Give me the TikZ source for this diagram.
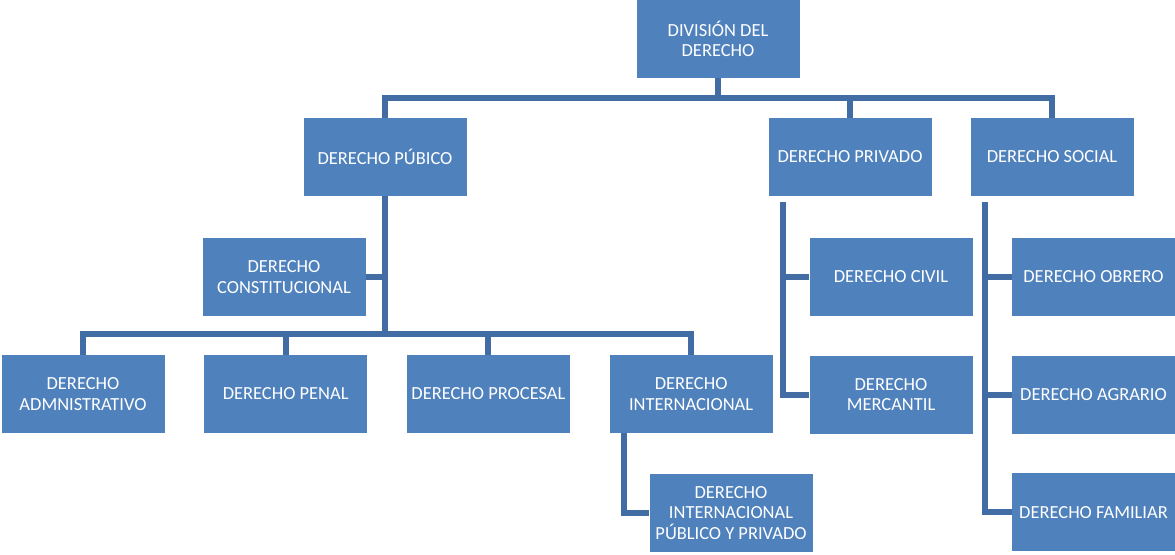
\documentclass[tikz,border=0pt]{standalone}
\usepackage{fontspec}
\setmainfont{Carlito}
\usetikzlibrary{positioning}
\definecolor{cajaazul}{RGB}{79,129,189}
\definecolor{lineaazul}{RGB}{66,108,164}

\begin{document}
\begin{tikzpicture}[
    node distance=0.78cm and 0.78cm, % Abstand zwischen den Knoten
    every node/.style={font=\fontsize{10.5}{11.5}\selectfont}, % Schriftart der Knoten
    caja/.style={fill=cajaazul, text=white, align=center, inner sep=1pt, minimum width=3.26cm, minimum height=1.56cm}, % Stil der Kaesten
    enlace/.style={draw=lineaazul, line width=3.4pt} % Stil der Verbindungen
]
\useasboundingbox (0,0) rectangle (23.5,-11.08);

% Wurzel
\node[caja] (division) at (14.36,-0.78) {DIVISIÓN DEL\\DERECHO};

% Erste Ebene
\node[caja] (publico) at (7.70,-3.14) {DERECHO PÚBICO};
\node[caja] (privado) at (17.00,-3.14) {DERECHO PRIVADO};
\node[caja] (social) at (21.04,-3.14) {DERECHO SOCIAL};

% Derecho Publico
\node[caja] (constitucional) at (5.68,-5.54) {DERECHO\\CONSTITUCIONAL};
\node[caja] (administrativo) at (1.66,-7.88) {DERECHO\\ADMNISTRATIVO};
\node[caja] (penal) [right=of administrativo] {DERECHO PENAL};
\node[caja] (procesal) [right=of penal] {DERECHO PROCESAL};
\node[caja] (internacional) [right=of procesal] {DERECHO\\INTERNACIONAL};
\node[caja] (intpp) at (14.62,-10.26) {DERECHO\\INTERNACIONAL\\PÚBLICO Y PRIVADO};

% Derecho Privado
\node[caja] (civil) at (17.82,-5.54) {DERECHO CIVIL};
\node[caja] (mercantil) [below=of civil] {DERECHO\\MERCANTIL};

% Derecho Social
\node[caja] (obrero) at (21.87,-5.54) {DERECHO OBRERO};
\node[caja] (agrario) [below=of obrero] {DERECHO AGRARIO};
\node[caja] (familiar) [below=of agrario] {DERECHO FAMILIAR};

% Verbindungslinien von der Wurzel
\draw[enlace] (division.south) -- ++(0,-0.4) -| (publico.north);
\draw[enlace] (division.south) -- ++(0,-0.4) -| (privado.north);
\draw[enlace] (division.south) -- ++(0,-0.4) -| (social.north);

% Verbindungslinien Derecho Publico
\draw[enlace] (constitucional.east) -- (constitucional.east -| publico.south);
\draw[enlace] (publico.south) -- ++(0,-2.76) -| (administrativo.north);
\draw[enlace] (publico.south) -- ++(0,-2.76) -| (penal.north);
\draw[enlace] (publico.south) -- ++(0,-2.76) -| (procesal.north);
\draw[enlace] (publico.south) -- ++(0,-2.76) -| (internacional.north);
\draw[enlace] ([xshift=0.3cm]internacional.south west) |- (intpp.west);

% Verbindungslinien Derecho Privado
\draw[enlace] ([xshift=0.3cm,yshift=-0.12cm]privado.south west) |- (civil.west);
\draw[enlace] ([xshift=0.3cm,yshift=-0.12cm]privado.south west) |- (mercantil.west);

% Verbindungslinien Derecho Social
\draw[enlace] ([xshift=0.3cm,yshift=-0.12cm]social.south west) |- (obrero.west);
\draw[enlace] ([xshift=0.3cm,yshift=-0.12cm]social.south west) |- (agrario.west);
\draw[enlace] ([xshift=0.3cm,yshift=-0.12cm]social.south west) |- (familiar.west);

\end{tikzpicture}
\end{document}
